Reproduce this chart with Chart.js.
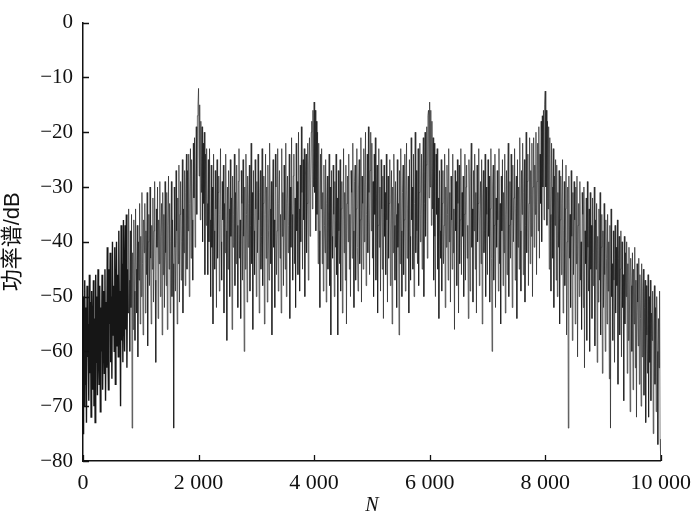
<!DOCTYPE html>
<html>
<head>
<meta charset="utf-8">
<script src="https://cdn.jsdelivr.net/npm/chart.js@4"></script>
<style>
  html, body { margin: 0; padding: 0; background: #fff; }
  #wrap { width: 700px; height: 518px; }
</style>
</head>
<body>
<div id="wrap"><canvas id="psd" width="700" height="518"></canvas></div>
<script>
// -------------------
// Data (one value every 10 samples)
// -------------------
const sampleStep = 10;
const xTicks = [0, 2000, 4000, 6000, 8000, 10000];
const yTicks = [0, -10, -20, -30, -40, -50, -60, -70, -80];

const power = [
  -75, -50, -70, -47, -66, -52, -73, -48, -61, -55, -69, -46, -64, -51, -72, -49, -58, -67, -47, -70,
  -54, -73, -46, -62, -50, -68, -45, -59, -66, -48, -71, -52, -60, -46, -67, -55, -49, -64, -45, -69,
  -51, -63, -41, -58, -67, -45, -55, -42, -62, -50, -65, -40, -57, -48, -60, -41, -66, -53, -40, -59,
  -46, -61, -38, -55, -49, -70, -37, -58, -44, -62, -36, -52, -60, -37, -56, -35, -63, -45, -53, -34,
  -47, -60, -38, -52, -35, -74, -42, -56, -36, -49, -58, -34, -45, -53, -37, -61, -40, -47, -33, -55,
  -39, -50, -31, -44, -57, -36, -42, -33, -53, -38, -46, -31, -59, -40, -35, -48, -30, -43, -55, -37,
  -45, -32, -51, -38, -29, -47, -62, -34, -41, -30, -54, -36, -44, -29, -50, -39, -33, -57, -31, -46,
  -35, -52, -29, -42, -48, -31, -56, -37, -28, -45, -33, -53, -40, -29, -50, -36, -44, -74, -30, -41,
  -49, -27, -38, -55, -32, -44, -26, -51, -35, -29, -47, -40, -25, -53, -34, -42, -27, -48, -31, -24,
  -45, -27, -38, -24, -50, -33, -23, -43, -25, -36, -47, -22, -32, -21, -41, -28, -19, -35, -17, -15,
  -12, -28, -15, -36, -18, -31, -19, -40, -22, -33, -20, -46, -24, -37, -23, -33, -46, -25, -40, -23,
  -36, -50, -26, -41, -30, -55, -24, -38, -45, -27, -34, -52, -25, -43, -31, -28, -49, -35, -23, -40,
  -47, -29, -36, -26, -53, -33, -42, -24, -38, -58, -30, -45, -27, -34, -50, -25, -39, -32, -56, -28,
  -41, -35, -24, -48, -31, -44, -26, -37, -52, -29, -23, -43, -36, -54, -27, -33, -47, -25, -39, -60,
  -30, -45, -24, -35, -51, -28, -41, -33, -26, -49, -37, -22, -44, -31, -56, -27, -38, -46, -25, -34,
  -50, -29, -42, -24, -36, -53, -31, -27, -45, -39, -23, -48, -33, -28, -55, -35, -24, -43, -30, -51,
  -26, -38, -47, -22, -34, -44, -29, -57, -32, -25, -41, -36, -52, -24, -30, -46, -38, -23, -49, -33,
  -27, -43, -35, -53, -23, -39, -31, -48, -26, -36, -45, -22, -50, -33, -28, -42, -37, -24, -54, -30,
  -41, -21, -35, -47, -28, -24, -44, -32, -52, -22, -38, -29, -46, -20, -34, -49, -26, -40, -19, -31,
  -45, -25, -36, -23, -50, -28, -24, -42, -33, -22, -47, -26, -21, -39, -30, -20, -18, -34, -16, -30,
  -14.5, -31, -16, -38, -18, -35, -20, -44, -22, -38, -52, -24, -34, -23, -44, -31, -49, -26, -37, -42,
  -25, -51, -33, -28, -45, -36, -24, -48, -30, -57, -27, -39, -43, -26, -35, -50, -29, -41, -24, -46,
  -32, -57, -27, -38, -44, -25, -49, -34, -29, -53, -36, -23, -42, -31, -47, -26, -55, -33, -28, -40,
  -24, -45, -35, -50, -27, -31, -43, -22, -38, -52, -29, -26, -47, -34, -23, -41, -49, -30, -25, -44,
  -36, -21, -51, -28, -33, -45, -23, -40, -30, -20, -48, -35, -24, -42, -19, -31, -46, -27, -20, -38,
  -22, -43, -29, -50, -24, -35, -21, -47, -32, -26, -53, -37, -23, -41, -30, -49, -25, -34, -45, -28,
  -54, -26, -39, -31, -46, -24, -36, -51, -28, -43, -33, -25, -48, -38, -27, -55, -30, -42, -24, -37,
  -47, -29, -35, -52, -25, -41, -33, -57, -27, -44, -23, -38, -50, -31, -26, -46, -36, -24, -49, -32,
  -22, -43, -34, -28, -53, -25, -39, -47, -21, -36, -30, -45, -24, -50, -33, -20, -42, -27, -38, -44,
  -23, -48, -31, -22, -40, -35, -24, -45, -28, -21, -50, -33, -20, -39, -26, -19, -43, -17, -16, -32,
  -14.5, -30, -16, -37, -18, -34, -21, -47, -22, -39, -50, -24, -35, -23, -45, -32, -54, -27, -38, -43,
  -25, -49, -33, -27, -44, -37, -24, -52, -30, -41, -26, -35, -47, -23, -40, -31, -51, -28, -36, -45,
  -24, -42, -34, -56, -27, -38, -29, -48, -25, -33, -53, -26, -44, -36, -23, -46, -31, -39, -28, -50,
  -35, -24, -47, -30, -26, -43, -37, -54, -25, -32, -49, -28, -22, -41, -34, -51, -27, -38, -24, -45,
  -31, -53, -26, -40, -33, -23, -48, -36, -29, -44, -25, -55, -32, -27, -42, -38, -24, -50, -30, -35,
  -46, -25, -39, -28, -51, -34, -23, -43, -60, -30, -26, -47, -37, -24, -52, -32, -41, -27, -36, -49,
  -23, -44, -33, -55, -28, -38, -25, -48, -31, -42, -24, -53, -35, -27, -46, -30, -22, -50, -37, -29,
  -43, -24, -36, -52, -26, -40, -32, -23, -47, -34, -28, -54, -25, -41, -30, -45, -21, -38, -49, -27,
  -35, -22, -46, -31, -25, -51, -37, -20, -42, -29, -24, -48, -33, -21, -44, -27, -39, -22, -50, -30,
  -21, -41, -26, -35, -20, -46, -29, -22, -38, -19, -43, -24, -33, -18, -40, -17, -30, -16, -36, -15,
  -12.5, -30, -16, -37, -18, -34, -19, -45, -21, -35, -49, -22, -30, -43, -23, -52, -28, -37, -25, -47,
  -26, -50, -31, -41, -27, -55, -36, -28, -46, -33, -25, -53, -38, -29, -48, -34, -26, -57, -40, -30,
  -74, -28, -43, -35, -52, -27, -39, -58, -31, -46, -29, -36, -55, -30, -44, -28, -61, -37, -33, -50,
  -29, -47, -40, -56, -31, -35, -52, -30, -63, -38, -44, -32, -58, -29, -41, -49, -34, -60, -31, -45,
  -37, -54, -32, -48, -42, -30, -59, -36, -45, -33, -62, -39, -51, -34, -47, -31, -57, -41, -35, -64,
  -38, -52, -33, -46, -60, -36, -43, -55, -35, -49, -40, -65, -37, -74, -34, -50, -44, -58, -38, -47,
  -62, -37, -53, -41, -48, -36, -66, -43, -39, -57, -45, -38, -61, -40, -52, -46, -69, -39, -55, -42,
  -50, -40, -64, -44, -58, -41, -53, -71, -43, -48, -60, -42, -67, -45, -55, -41, -63, -47, -72, -44,
  -51, -59, -43, -66, -46, -54, -70, -44, -61, -49, -45, -68, -52, -47, -73, -48, -57, -64, -46, -72,
  -50, -62, -47, -69, -53, -58, -49, -75, -55, -48, -66, -52, -71, -50, -60, -77, -54, -63, -49, -76,
  -80
];

const points = power.map((v, i) => ({ x: i * sampleStep, y: v }));

// thousands with a space, minus sign like the print
function fmtX(v) {
  return String(v).replace(/\B(?=(\d{3})+(?!\d))/g, ' ');
}
function fmtY(v) {
  return v < 0 ? '\u2212' + Math.abs(v) : String(v);
}

// -------------------
// Inward tick marks
// -------------------
const inwardTicks = {
  id: 'inwardTicks',
  afterDraw(chart) {
    const ctx = chart.ctx;
    const xs = chart.scales.x, ys = chart.scales.y;
    const area = chart.chartArea;
    ctx.save();
    ctx.strokeStyle = '#111';
    ctx.lineWidth = 1.3;
    ctx.beginPath();
    xTicks.forEach(t => {
      const px = Math.round(xs.getPixelForValue(t)) + 0.5;
      ctx.moveTo(px, area.bottom);
      ctx.lineTo(px, area.bottom - 6);
    });
    yTicks.forEach(t => {
      const py = Math.round(ys.getPixelForValue(t)) + 0.5;
      ctx.moveTo(area.left, py);
      ctx.lineTo(area.left + 6, py);
    });
    ctx.stroke();
    ctx.restore();
  }
};

const config = {
  type: 'line',
  data: {
    datasets: [{
      data: points,
      borderColor: 'rgba(25, 25, 25, 0.62)',
      borderWidth: 1,
      pointRadius: 0,
      tension: 0,
      fill: false,
      // the low-N end prints as a solid black block
      segment: {
        borderColor: c => c.p0.parsed.x < 780 ? 'rgba(10, 10, 10, 0.95)' : undefined,
        borderWidth: c => c.p0.parsed.x < 780 ? 1.4 : undefined
      }
    }]
  },
  options: {
    responsive: false,
    animation: false,
    layout: { padding: { top: 7, right: 37, bottom: 0, left: 0 } },
    plugins: {
      legend: { display: false },
      tooltip: { enabled: false }
    },
    scales: {
      x: {
        type: 'linear',
        min: 0,
        max: 10000,
        afterBuildTicks: s => { s.ticks = xTicks.map(v => ({ value: v })); },
        afterFit: s => { s.height = 57; },
        grid: { display: false, drawTicks: false },
        border: { display: true, color: '#111', width: 1.5 },
        ticks: {
          callback: v => fmtX(v),
          color: '#111',
          padding: 9,
          maxRotation: 0,
          font: { family: '"Liberation Serif", serif', size: 22 }
        },
        title: {
          display: true,
          text: 'N',
          color: '#111',
          padding: { top: 0, bottom: 0 },
          font: { family: '"Liberation Serif", serif', size: 20, style: 'italic' }
        }
      },
      y: {
        min: -80,
        max: 0,
        afterBuildTicks: s => { s.ticks = yTicks.map(v => ({ value: v })); },
        afterFit: s => { s.width = 83; },
        grid: { display: false, drawTicks: false },
        border: { display: true, color: '#111', width: 1.5 },
        ticks: {
          callback: v => fmtY(v),
          color: '#111',
          padding: 10,
          font: { family: '"Liberation Serif", serif', size: 21 }
        },
        title: {
          display: true,
          text: '功率谱/dB',
          color: '#111',
          padding: { top: 0, bottom: 0 },
          font: { family: '"Liberation Sans", "Noto Sans CJK SC", sans-serif', size: 22 }
        }
      }
    }
  },
  plugins: [inwardTicks]
};

new Chart(document.getElementById('psd'), config);
</script>
</body>
</html>
